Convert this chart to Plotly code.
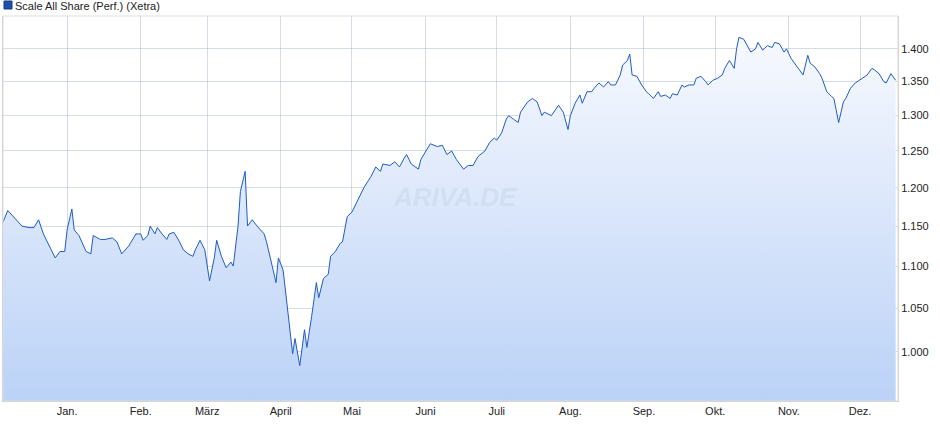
import plotly.graph_objects as go
import pandas as pd
import numpy as np

start = "2024-12-05"
days = [0,2,5,8,11,13,15,17,20,22,24,26,27,29,30,32,35,37,38,41,43,46,48,50,53,54,56,58,59,61,62,64,65,67,69,70,72,74,76,78,80,81,83,85,87,89,90,92,94,96,97,99,100,102,103,105,107,110,111,113,115,116,118,119,121,122,123,125,127,128,130,132,133,135,137,138,140,142,143,145,147,149,150,152,154,155,157,159,160,163,165,167,169,170,172,175,176,178,180,183,185,187,189,191,193,194,196,198,200,202,203,205,207,208,210,212,213,215,217,218,221,223,225,227,228,231,233,234,236,238,239,241,243,244,246,248,249,251,253,255,256,258,260,261,263,264,265,267,269,271,272,274,276,277,279,281,282,284,286,287,289,291,292,294,296,297,299,301,303,304,306,308,309,310,312,313,315,317,318,320,322,324,325,327,329,330,332,334,335,337,339,340,342,344,345,347,349,350,352,354,355,357,359,360,362,364,366,367,369,371,372,374,376]
values = [1.155,1.170,1.160,1.150,1.148,1.148,1.158,1.140,1.122,1.110,1.118,1.118,1.145,1.172,1.145,1.138,1.118,1.115,1.138,1.133,1.133,1.135,1.130,1.115,1.125,1.130,1.140,1.140,1.132,1.138,1.150,1.140,1.148,1.140,1.133,1.140,1.142,1.132,1.120,1.115,1.112,1.120,1.132,1.120,1.082,1.110,1.132,1.112,1.098,1.105,1.100,1.150,1.195,1.222,1.150,1.158,1.150,1.140,1.130,1.105,1.080,1.110,1.095,1.070,1.020,0.998,1.015,0.985,1.025,1.005,1.040,1.080,1.062,1.085,1.090,1.112,1.118,1.128,1.130,1.162,1.168,1.180,1.188,1.200,1.210,1.215,1.228,1.222,1.232,1.230,1.235,1.228,1.240,1.245,1.232,1.225,1.238,1.250,1.260,1.256,1.258,1.245,1.250,1.238,1.230,1.225,1.230,1.230,1.242,1.248,1.250,1.262,1.268,1.265,1.275,1.295,1.300,1.295,1.290,1.305,1.320,1.325,1.320,1.300,1.305,1.300,1.310,1.315,1.305,1.280,1.300,1.318,1.330,1.318,1.335,1.335,1.340,1.348,1.342,1.350,1.345,1.345,1.360,1.375,1.382,1.392,1.360,1.358,1.345,1.335,1.332,1.325,1.335,1.328,1.330,1.325,1.332,1.330,1.345,1.342,1.345,1.345,1.355,1.358,1.350,1.345,1.352,1.355,1.360,1.370,1.382,1.370,1.400,1.418,1.415,1.408,1.395,1.400,1.410,1.398,1.405,1.402,1.410,1.408,1.395,1.400,1.385,1.375,1.370,1.360,1.390,1.378,1.372,1.362,1.355,1.335,1.328,1.325,1.290,1.320,1.325,1.340,1.348,1.350,1.355,1.360,1.370,1.368,1.362,1.350,1.348,1.362,1.352]
month_starts = ["2025-01-01","2025-02-01","2025-03-01","2025-04-01","2025-05-01","2025-06-01","2025-07-01","2025-08-01","2025-09-01","2025-10-01","2025-11-01","2025-12-01"]
month_labels = ["Jan.","Feb.","März","April","Mai","Juni","Juli","Aug.","Sep.","Okt.","Nov.","Dez."]
y_ticks = [1.0,1.05,1.1,1.15,1.2,1.25,1.3,1.35,1.4]
y_labels = ["1.000","1.050","1.100","1.150","1.200","1.250","1.300","1.350","1.400"]
series_name = "Scale All Share (Perf.) (Xetra)"

dates = pd.Timestamp(start) + pd.to_timedelta(days, unit="D")
ymin, ymax = 0.947, 1.452

fig = go.Figure()
fig.add_trace(go.Scatter(x=dates, y=[ymin*0.99]*len(dates), mode="lines",
                         line=dict(width=0), showlegend=False, hoverinfo="skip"))
fig.add_trace(go.Scatter(x=dates, y=values, mode="lines", fill="tonexty",
                         line=dict(color="#1f5bc4", width=1),
                         fillgradient=dict(type="vertical",
                                           colorscale=[[0, "#b9d1f7"], [1, "#f7f9fe"]]),
                         showlegend=False))

fig.update_layout(
    width=940, height=435, margin=dict(l=3, r=42, t=16, b=34, autoexpand=False),
    paper_bgcolor="white", plot_bgcolor="white",
    font=dict(family="Liberation Sans, Arial", size=11, color="#222"),
    xaxis=dict(range=[pd.Timestamp(start), pd.Timestamp("2025-12-17")], automargin=False,
               tickvals=month_starts, ticktext=month_labels, showgrid=True,
               gridcolor="rgba(170,185,210,0.5)", ticks="", showline=True,
               linecolor="#ccc", mirror=False, zeroline=False),
    yaxis=dict(type="log", range=[np.log10(ymin), np.log10(ymax)], side="right", automargin=False,
               tickvals=y_ticks, ticktext=y_labels, showgrid=True,
               gridcolor="rgba(170,185,210,0.5)", ticks="", showline=True,
               linecolor="#ccc", mirror=True, zeroline=False),
)
fig.add_shape(type="rect", xref="paper", yref="paper", x0=0, x1=1, y0=0, y1=1,
              line=dict(color="#ddd", width=1))
fig.add_shape(type="rect", xref="paper", yref="paper", xsizemode="pixel", ysizemode="pixel",
              xanchor=0, yanchor=1, x0=1, x1=9, y0=7, y1=15,
              fillcolor="#1f4fa8", line=dict(color="#123a80", width=1))
fig.add_annotation(xref="paper", yref="paper", x=0.0, y=1.0, yshift=10, xshift=10,
                   xanchor="left", yanchor="middle", showarrow=False,
                   text=series_name, font=dict(size=11, color="#222"))
fig.add_annotation(xref="paper", yref="paper", x=0.505, y=0.53, showarrow=False,
                   text="<i><b>ARIVA.DE</b></i>", font=dict(size=26, color="rgba(150,170,200,0.18)"))
fig.write_html("out.html", config={"displayModeBar": False},
               post_script="document.body.style.margin='0';")
